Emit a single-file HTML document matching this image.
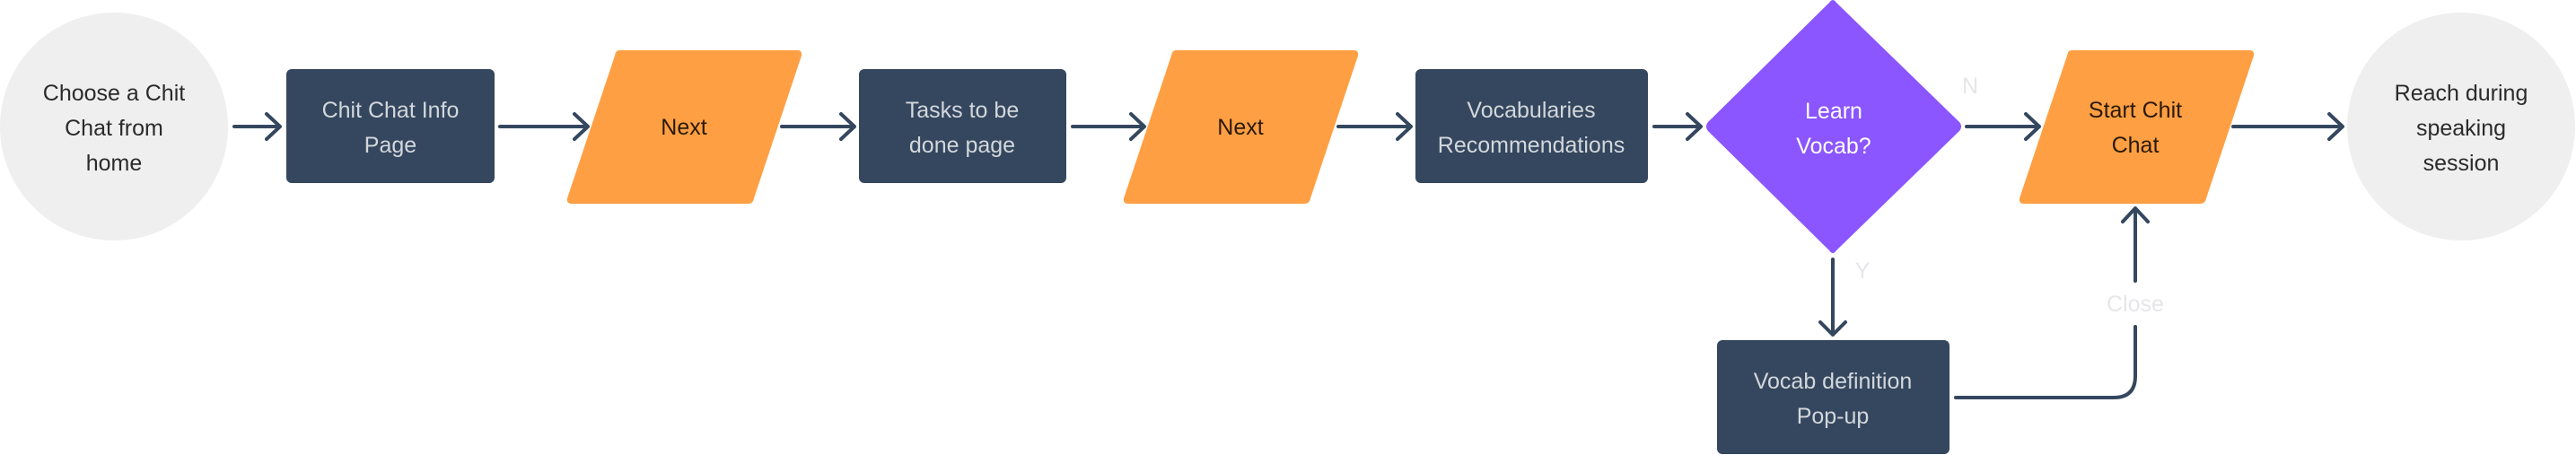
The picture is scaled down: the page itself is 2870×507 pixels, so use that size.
<!DOCTYPE html>
<html><head><meta charset="utf-8"><style>
html,body{margin:0;padding:0;background:#fff;}
svg{display:block;}
text{font-family:"Liberation Sans",sans-serif;font-size:25px;text-anchor:middle;}
</style></head><body>
<svg width="2870" height="507" viewBox="0 0 2870 507" xmlns="http://www.w3.org/2000/svg">
<g fill="none" stroke="#34475e" stroke-width="4" stroke-linecap="round" stroke-linejoin="round">
  <!-- horizontal arrows -->
  <path d="M261 141H311M297 127L312 141L297 155"/>
  <path d="M557 141H654M640 127L655 141L640 155"/>
  <path d="M871 141H951M937 127L952 141L937 155"/>
  <path d="M1195 141H1274M1260 127L1275 141L1260 155"/>
  <path d="M1491 141H1571M1557 127L1572 141L1557 155"/>
  <path d="M1843 141H1894M1880 127L1895 141L1880 155"/>
  <path d="M2191 141H2271M2257 127L2272 141L2257 155"/>
  <path d="M2488 141H2609M2595 127L2610 141L2595 155"/>
  <!-- down Y -->
  <path d="M2042 289V373M2028 359L2042 373L2056 359"/>
  <!-- close loop -->
  <path d="M2179 443H2355Q2379 443 2379 419V364"/>
  <path d="M2379 313V233M2365 247L2379 232L2393 247"/>
</g>
<!-- circles -->
<ellipse cx="127" cy="141" rx="127" ry="127" fill="#efefef"/>
<ellipse cx="2742" cy="141" rx="127" ry="127" fill="#efefef"/>
<!-- dark boxes -->
<rect x="319" y="77" width="232" height="127" rx="6" fill="#34475e"/>
<rect x="957" y="77" width="231" height="127" rx="6" fill="#34475e"/>
<rect x="1577" y="77" width="259" height="127" rx="6" fill="#34475e"/>
<rect x="1913" y="379" width="259" height="127" rx="6" fill="#34475e"/>
<!-- parallelograms -->
<path d="M690 56H888Q894 56 893 62L840 221Q839 227 833 227H637Q631 227 632 221L685 62Q686 56 690 56Z" fill="#ff9f43"/>
<path d="M1310 56H1508Q1514 56 1513 62L1460 221Q1459 227 1453 227H1257Q1251 227 1252 221L1305 62Q1306 56 1310 56Z" fill="#ff9f43"/>
<path d="M2308 56H2506Q2512 56 2511 62L2458 221Q2457 227 2451 227H2255Q2249 227 2250 221L2303 62Q2304 56 2308 56Z" fill="#ff9f43"/>
<!-- diamond -->
<path d="M2038 3Q2042 -3 2046 3L2183 136Q2187 141 2183 146L2046 279Q2042 285 2038 279L1903 146Q1899 141 1903 136Z" fill="#8b55ff"/>
<!-- texts -->
<g fill="#2b2b2b">
  <text x="127" y="112">Choose a Chit</text>
  <text x="127" y="151">Chat from</text>
  <text x="127" y="190">home</text>
  <text x="2742" y="112">Reach during</text>
  <text x="2742" y="151">speaking</text>
  <text x="2742" y="190">session</text>
</g>
<g fill="#2a1a08">
  <text x="762" y="150">Next</text>
  <text x="1382" y="150">Next</text>
  <text x="2379" y="131">Start Chit</text>
  <text x="2379" y="170">Chat</text>
</g>
<g fill="#d3d7dc">
  <text x="435" y="131">Chit Chat Info</text>
  <text x="435" y="170">Page</text>
  <text x="1072" y="131">Tasks to be</text>
  <text x="1072" y="170">done page</text>
  <text x="1706" y="131">Vocabularies</text>
  <text x="1706" y="170">Recommendations</text>
  <text x="2042" y="433">Vocab definition</text>
  <text x="2042" y="472">Pop-up</text>
</g>
<g fill="#ffffff">
  <text x="2043" y="132">Learn</text>
  <text x="2043" y="171">Vocab?</text>
</g>
<g fill="#e6e6ea" style="font-size:22px">
  <text x="2195" y="104">N</text>
  <text x="2075" y="310">Y</text>
  <text x="2379" y="347">Close</text>
</g>
</svg>
</body></html>
